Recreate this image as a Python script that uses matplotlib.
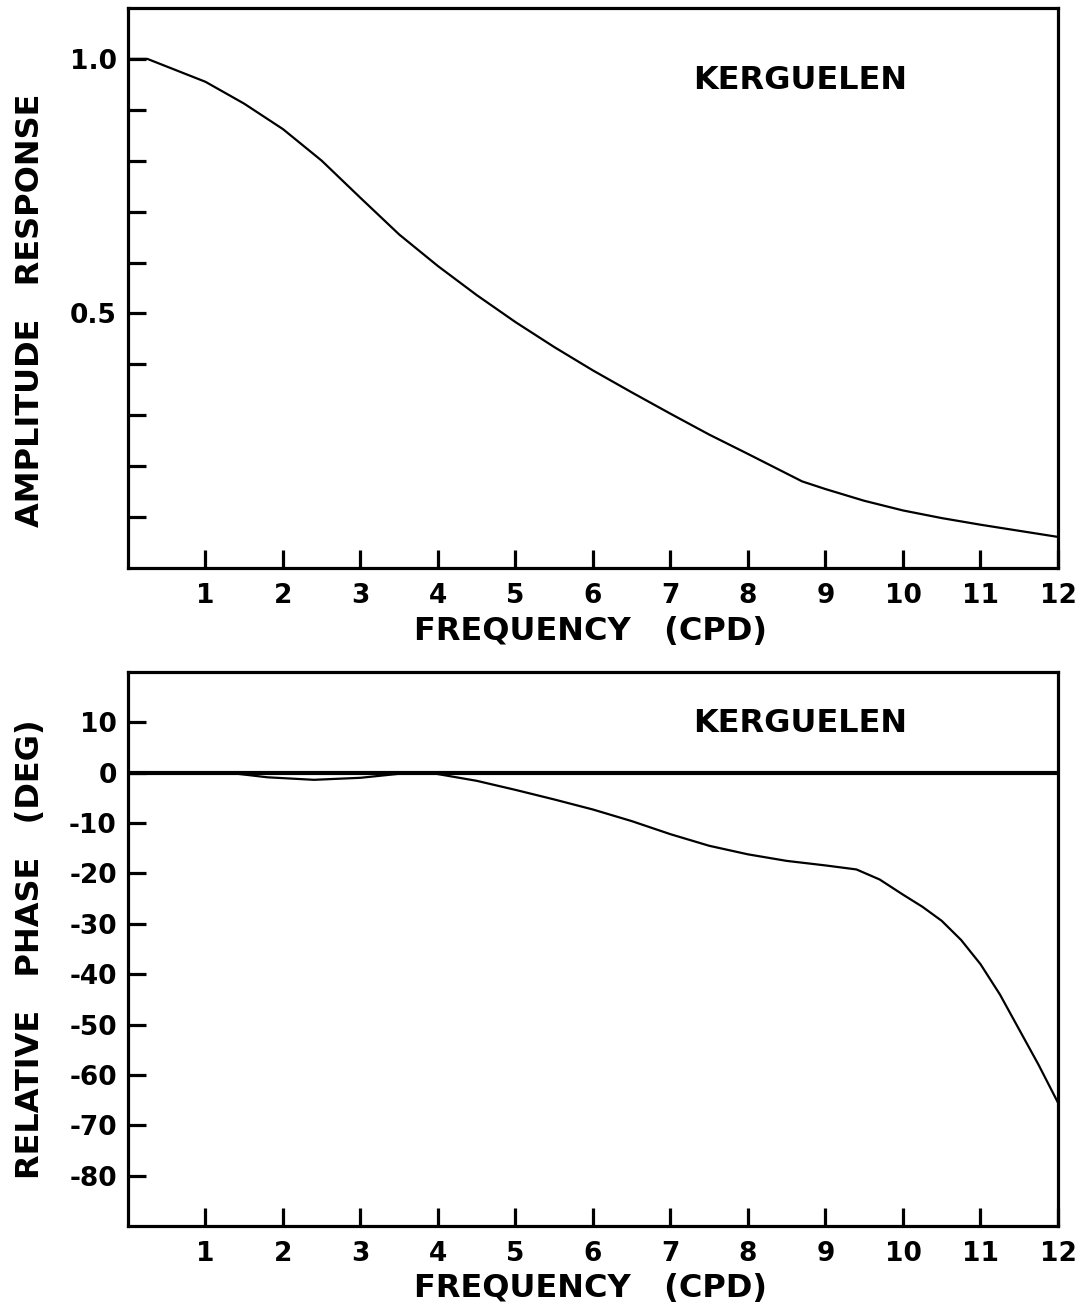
import matplotlib.pyplot as plt

plt.rcParams['font.family'] = 'DejaVu Sans'
plt.rcParams['font.weight'] = 'bold'
plt.rcParams['axes.labelweight'] = 'bold'

# Amplitude response of the filter (upper panel)
freq_amp = [0, 0.25, 0.5, 1.0, 1.5, 2.0, 2.5, 3.0, 3.5, 4.0, 4.5, 5.0, 5.5,
            6.0, 6.5, 7.0, 7.5, 8.0, 8.7, 9.0, 9.5, 10.0, 10.5, 11.0, 11.5, 12.0]
amplitude = [1.0, 1.0, 0.985, 0.955, 0.912, 0.862, 0.800, 0.727, 0.655, 0.593, 0.536,
             0.483, 0.434, 0.388, 0.345, 0.303, 0.262, 0.224, 0.170, 0.155, 0.132,
             0.113, 0.098, 0.085, 0.073, 0.061]

# Relative phase (lower panel)
freq_phase = [0, 1.3, 1.8, 2.4, 3.0, 3.5, 3.9, 4.5, 5.0, 5.5, 6.0, 6.5, 7.0,
              7.5, 8.0, 8.5, 9.0, 9.4, 9.7, 10.0, 10.25, 10.5, 10.75, 11.0,
              11.25, 11.5, 11.75, 12.0]
phase = [0, 0, -0.9, -1.4, -1.0, -0.2, 0, -1.6, -3.4, -5.3, -7.3, -9.6, -12.2,
         -14.5, -16.2, -17.5, -18.4, -19.2, -21.2, -24.2, -26.6, -29.4, -33.2,
         -38.0, -44.0, -51.0, -58.0, -65.5]

x_ticks = list(range(1, 13))
amp_ticks = [0.1, 0.2, 0.3, 0.4, 0.5, 0.6, 0.7, 0.8, 0.9, 1.0]
amp_labels = ['', '', '', '', '0.5', '', '', '', '', '1.0']
phase_ticks = list(range(-80, 11, 10))

fig = plt.figure(figsize=(10.8, 13.09), dpi=100)
ax1 = fig.add_axes([0.1185, 0.5661, 0.8611, 0.4278])
ax2 = fig.add_axes([0.1185, 0.0634, 0.8611, 0.4232])

tick_font = 19
label_font = 23


def style_axes(ax):
    for s in ax.spines.values():
        s.set_linewidth(2.3)
    ax.tick_params(direction='in', length=13, width=2.3, labelsize=tick_font)
    ax.tick_params(axis='y', pad=8)
    ax.tick_params(axis='x', pad=11)
    ax.set_xlim(0, 12)
    ax.set_xticks(x_ticks)
    ax.set_xticklabels([str(t) for t in x_ticks])
    ax.set_xlabel('FREQUENCY   (CPD)', fontsize=label_font)
    ax.xaxis.set_label_coords(0.497, -0.085)


# upper panel
ax1.plot(freq_amp, amplitude, color='black', lw=1.6)
ax1.set_ylim(0, 1.1)
ax1.set_yticks(amp_ticks)
ax1.set_yticklabels(amp_labels)
style_axes(ax1)
ax1.set_ylabel('AMPLITUDE   RESPONSE', fontsize=label_font)
ax1.yaxis.set_label_coords(-0.088, 0.46)
ax1.text(8.68, 0.957, 'KERGUELEN', fontsize=23, ha='center', va='center')

# lower panel
ax2.axhline(0, color='black', lw=3)
ax2.plot(freq_phase, phase, color='black', lw=1.6)
ax2.set_ylim(-90, 20)
ax2.set_yticks(phase_ticks)
ax2.set_yticklabels([str(t) for t in phase_ticks])
style_axes(ax2)
ax2.set_ylabel('RELATIVE   PHASE   (DEG)', fontsize=label_font)
ax2.yaxis.set_label_coords(-0.088, 0.50)
ax2.text(8.68, 9.8, 'KERGUELEN', fontsize=23, ha='center', va='center')

fig.savefig('out.png', dpi=100)
